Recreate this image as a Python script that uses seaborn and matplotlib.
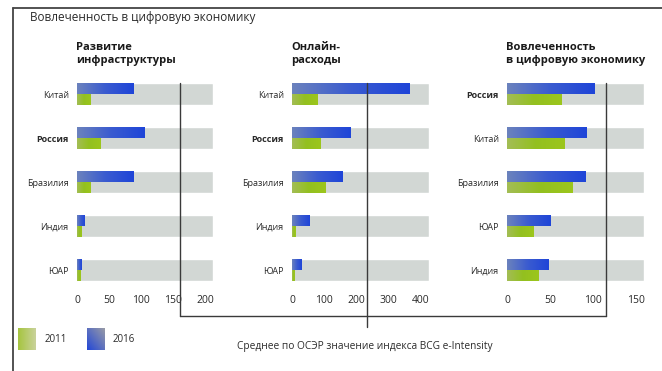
import numpy as np
import pandas as pd
import matplotlib
matplotlib.use("Agg")
import matplotlib.pyplot as plt
import seaborn as sns
from matplotlib.colors import LinearSegmentedColormap
from matplotlib.lines import Line2D

sns.set_theme(style="white")
plt.rcParams['font.family'] = ['Open Sans', 'DejaVu Sans']

# ---------------- data ----------------
main_title = "Вовлеченность в цифровую экономику"
panel_titles = ["Развитие\nинфраструктуры", "Онлайн-\nрасходы", "Вовлеченность\nв цифровую экономику"]
years = ["2016", "2011"]

countries_infra = ["Китай", "Россия", "Бразилия", "Индия", "ЮАР"]
infra_2016 = [88, 106, 88, 11, 7]
infra_2011 = [21, 36, 21, 7, 5]

countries_online = ["Китай", "Россия", "Бразилия", "Индия", "ЮАР"]
online_2016 = [363, 180, 158, 53, 28]
online_2011 = [80, 87, 104, 10, 7]

countries_eint = ["Россия", "Китай", "Бразилия", "ЮАР", "Индия"]
eint_2016 = [102, 92, 91, 51, 48]
eint_2011 = [63, 67, 76, 31, 36]

oecd_mean = [160, 232, 115]
scale_max = [212, 425, 159]
x_ticks = [[0, 50, 100, 150, 200], [0, 100, 200, 300, 400], [0, 50, 100, 150]]
note = "Среднее по ОСЭР значение индекса BCG e-Intensity"

panels = [
    (countries_infra, infra_2016, infra_2011),
    (countries_online, online_2016, online_2011),
    (countries_eint, eint_2016, eint_2011),
]

# ---------------- style ----------------
W, H = 662, 371
BLUE = "#2f52cc"
GREEN = "#97c125"
GRAY = "#d2d7d4"
LINE = "#3a3a3a"
TXT = "#2a2a2a"
blue_cmap = LinearSegmentedColormap.from_list("b", ["#6b82bd", "#3a5bd0", "#1f45d8"])
green_cmap = LinearSegmentedColormap.from_list("g", ["#a3bd55", "#93c020", "#9cc61c"])

fig = plt.figure(figsize=(W / 100, H / 100), dpi=100)
fig.patch.set_facecolor("white")


def fx(x):
    return x / W


def fy(y):
    return 1 - y / H


# axes pixel placements (left, right)
ax_x = [(77, 213), (292, 429), (507, 644)]
top_px, bot_px = 72, 292
mean_px = []

for i, (cats, v16, v11) in enumerate(panels):
    x0, x1 = ax_x[i]
    ax = fig.add_axes([fx(x0), fy(bot_px), (x1 - x0) / W, (bot_px - top_px) / H])
    ax.set_facecolor("none")
    # background bands
    sns.barplot(x=[scale_max[i]] * len(cats), y=cats, order=cats, color=GRAY,
                saturation=1, width=0.49, orient="h", ax=ax, errorbar=None)
    n_bg = len(ax.patches)
    df = pd.DataFrame({
        "country": cats * 2,
        "value": list(v16) + list(v11),
        "year": ["2016"] * len(cats) + ["2011"] * len(cats),
    })
    sns.barplot(data=df, x="value", y="country", hue="year", order=cats,
                hue_order=years, palette={"2016": BLUE, "2011": GREEN},
                saturation=1, width=0.49, orient="h", ax=ax, errorbar=None,
                legend=False)
    for p in ax.patches[n_bg:]:
        w = p.get_width()
        if w <= 0:
            continue
        fc = p.get_facecolor()
        cmap = blue_cmap if fc[2] > fc[1] else green_cmap
        grad = np.linspace(0, 1, 64).reshape(1, -1)
        xb, yb, hb = p.get_x(), p.get_y(), p.get_height()
        im = ax.imshow(grad, extent=[xb, xb + w, yb + hb, yb], aspect="auto",
                       cmap=cmap, zorder=p.get_zorder() + 0.1, interpolation="bilinear")
        im.set_clip_path(p)
        p.set_facecolor("none")
        p.set_edgecolor("none")
    ax.set_xlim(0, scale_max[i])
    ax.set_ylim(len(cats) - 0.5, -0.5)
    ax.set_xticks(x_ticks[i])
    ax.set_xticklabels([str(t) for t in x_ticks[i]])
    ax.set_xlabel("")
    ax.set_ylabel("")
    ax.tick_params(axis="x", length=0, pad=2, labelsize=7.5, labelcolor=TXT)
    ax.tick_params(axis="y", length=0, pad=6, labelsize=6.5, labelcolor=TXT)
    for lab in ax.get_yticklabels():
        if lab.get_text() == "Россия":
            lab.set_fontweight("bold")
    for s in ax.spines.values():
        s.set_visible(False)
    mean_px.append(ax.transData.transform((oecd_mean[i], 0))[0])
    fig.text(fx(x0 - 1), fy(42), panel_titles[i], ha="left", va="top",
             fontsize=8, fontweight="bold", color="#1a1a1a", linespacing=1.3)

# OECD mean lines and connector box
line_top, box_bot, mid_bot = 83, 316, 327
m1, m2, m3 = mean_px
for xs, ys in [
    ([m1, m1], [line_top, box_bot]),
    ([m1, m3], [box_bot, box_bot]),
    ([m3, m3], [box_bot, line_top]),
    ([m2, m2], [line_top, mid_bot]),
]:
    fig.add_artist(Line2D([fx(x) for x in xs], [fy(y) for y in ys],
                          color=LINE, lw=1.0, transform=fig.transFigure, zorder=5))

fig.text(fx(365), fy(347), note, ha="center", va="center", fontsize=7.3, color=TXT)

# main title and frame
fig.text(fx(30), fy(18), main_title, ha="left", va="center", fontsize=8.5, color=TXT)
fig.add_artist(Line2D([fx(13), fx(662)], [fy(8), fy(8)], color="#444444", lw=1.3,
                      transform=fig.transFigure))
fig.add_artist(Line2D([fx(13), fx(13)], [fy(8), fy(371)], color="#444444", lw=1.3,
                      transform=fig.transFigure))

# legend swatches
def swatch(x0, x1, y0, y1, cmap, direction):
    a = fig.add_axes([fx(x0), fy(y1), (x1 - x0) / W, (y1 - y0) / H])
    g = np.linspace(0, 1, 32)
    if direction == "diag":
        X, Y = np.meshgrid(g, g)
        img = (X + (1 - Y)) / 2
    else:
        img = np.tile(g, (32, 1))
    a.imshow(img, cmap=cmap, aspect="auto", interpolation="bilinear")
    a.axis("off")

swatch(18, 36, 328, 350, LinearSegmentedColormap.from_list("lg", ["#a6c540", "#c9d29a"]), "h")
swatch(87, 105, 328, 350, LinearSegmentedColormap.from_list("lb", ["#2448d6", "#9a9ca6"]), "diag")
fig.text(fx(45), fy(339), "2011", ha="left", va="center", fontsize=7, color=TXT)
fig.text(fx(113), fy(339), "2016", ha="left", va="center", fontsize=7, color=TXT)

fig.savefig("out.png", dpi=100, facecolor="white")
